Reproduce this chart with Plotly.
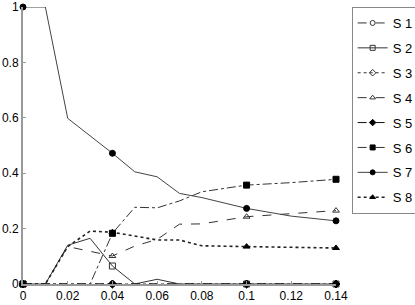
import plotly.graph_objects as go

x_vals = [0, 0.01, 0.02, 0.03, 0.04, 0.05, 0.06, 0.07, 0.08, 0.1, 0.12, 0.14]
s1 = [0, 0, 0, 0, 0, 0, 0, 0, 0, 0, 0, 0]
s2 = [0, 0, 0.14, 0.165, 0.065, 0, 0.017, 0, 0, 0, 0, 0]
s3 = [0, 0, 0, 0, 0, 0, 0, 0, 0, 0, 0, 0]
s4 = [0, 0, 0.135, 0.118, 0.101, 0.137, 0.161, 0.216, 0.217, 0.243, 0.255, 0.265]
s5 = [0, 0, 0, 0, 0, 0, 0, 0, 0, 0, 0, 0]
s6 = [0, 0, 0, 0, 0.183, 0.277, 0.275, 0.300, 0.333, 0.357, 0.366, 0.378]
s7 = [1, 1, 0.598, 0.535, 0.472, 0.405, 0.387, 0.327, 0.312, 0.273, 0.245, 0.228]
s8 = [0, 0, 0.135, 0.191, 0.187, 0.173, 0.159, 0.159, 0.138, 0.135, 0.132, 0.130]
names = ["S 1", "S 2", "S 3", "S 4", "S 5", "S 6", "S 7", "S 8"]
marker_idx = [0, 4, 9, 11]
x_ticks = [0, 0.02, 0.04, 0.06, 0.08, 0.1, 0.12, 0.14]
x_tick_text = ["0", "0.02", "0.04", "0.06", "0.08", "0.1", "0.12", "0.14"]
y_ticks = [0, 0.2, 0.4, 0.6, 0.8, 1]
y_tick_text = ["0", "0.2", "0.4", "0.6", "0.8", "1"]

series = [s1, s2, s3, s4, s5, s6, s7, s8]
styles = [
    dict(dash="dash", width=1, color="#333", symbol="circle-open", mcolor="#333"),
    dict(dash="solid", width=1, color="#333", symbol="square-open", mcolor="#333"),
    dict(dash="dot", width=1, color="#333", symbol="diamond-open", mcolor="#333"),
    dict(dash="dash", width=1, color="#333", symbol="triangle-up-open", mcolor="#333"),
    dict(dash="dash", width=1, color="#111", symbol="diamond", mcolor="#000"),
    dict(dash="dashdot", width=1, color="#333", symbol="square", mcolor="#000"),
    dict(dash="solid", width=1, color="#444", symbol="circle", mcolor="#000"),
    dict(dash="dot", width=1.6, color="#222", symbol="triangle-up", mcolor="#000"),
]

fig = go.Figure()
for ys, st in zip(series, styles):
    fig.add_trace(go.Scatter(
        x=x_vals, y=ys, mode="lines", showlegend=False,
        line=dict(color=st["color"], width=st["width"], dash=st["dash"]),
        cliponaxis=False, hoverinfo="skip"))
    fig.add_trace(go.Scatter(
        x=[x_vals[k] for k in marker_idx], y=[ys[k] for k in marker_idx],
        mode="markers", showlegend=False,
        marker=dict(symbol=st["symbol"], size=6, color=st["mcolor"],
                    line=dict(color=st["mcolor"], width=1)),
        cliponaxis=False))
for st, nm in zip(styles, names):
    fig.add_trace(go.Scatter(
        x=[None], y=[None], mode="lines+markers", name=nm, legendgroup=nm,
        line=dict(color=st["color"], width=st["width"], dash=st["dash"]),
        marker=dict(symbol=st["symbol"], size=5, color=st["mcolor"],
                    line=dict(color=st["mcolor"], width=1))))

fig.update_layout(
    width=415, height=305,
    margin=dict(l=23, r=79, t=7, b=21, autoexpand=False),
    paper_bgcolor="white", plot_bgcolor="white",
    font=dict(family="Liberation Sans, Arial, sans-serif", size=12, color="#000"),
    showlegend=True,
    legend=dict(x=1.05, y=1.0, xanchor="left", yanchor="top",
                bordercolor="#888", borderwidth=1, bgcolor="white",
                itemwidth=30, tracegroupgap=5, traceorder="grouped",
                maxheight=300, font=dict(size=13)),
    xaxis=dict(range=[0, 0.14], tickvals=x_ticks, ticktext=x_tick_text,
               showgrid=False, zeroline=False, showline=True,
               linecolor="#999", linewidth=2, ticks="inside", ticklen=3,
               tickcolor="#999", automargin=False),
    yaxis=dict(range=[0, 1], tickvals=y_ticks, ticktext=y_tick_text,
               showgrid=False, zeroline=False, showline=True,
               linecolor="#999", linewidth=2, ticks="inside", ticklen=3,
               tickcolor="#999", automargin=False),
)
fig.write_html("out.html", config={"displayModeBar": False},
               post_script="document.body.style.margin='0';document.body.style.overflow='hidden';")
